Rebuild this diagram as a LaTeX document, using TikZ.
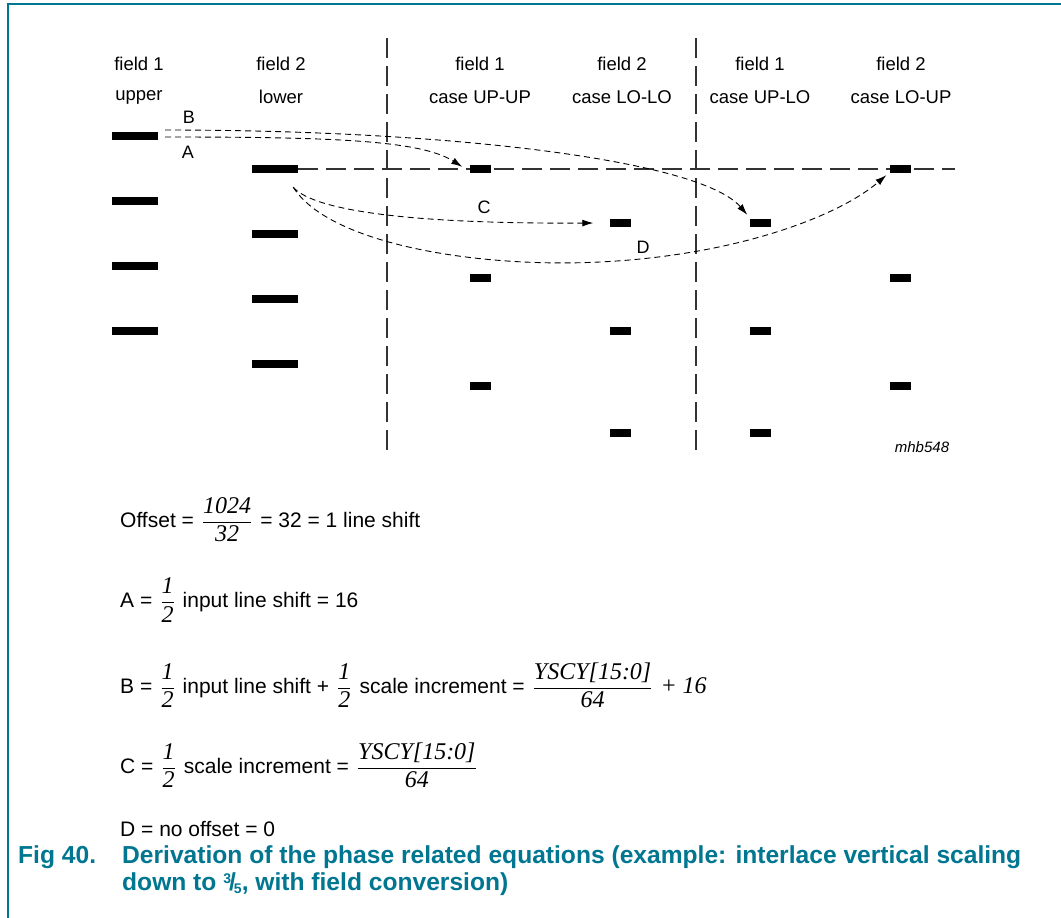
\documentclass[tikz,border=0pt]{standalone}
\usepackage{fontspec}
\setmainfont{Liberation Sans}
\newfontfamily\eqserif{Liberation Serif}
\usetikzlibrary{arrows.meta}
\definecolor{figteal}{RGB}{0,118,145}

\newcommand{\itnum}[1]{\hbox{\fontsize{24}{24}\eqserif\itshape #1}}
\newcommand{\eqfrac}[2]{\hspace{8pt}$\displaystyle\frac{\itnum{#1}}{\itnum{#2}}$\hspace{8pt}}

\tikzset{
  bigbar/.style={fill=black,inner sep=0pt,minimum width=46pt,minimum height=8pt},
  smallbar/.style={fill=black,inner sep=0pt,minimum width=21pt,minimum height=8pt},
  hdr/.style={font=\fontsize{18.5}{20}\selectfont,inner sep=0pt},
  lbl/.style={font=\fontsize{18}{20}\selectfont,inner sep=0pt},
  eqn/.style={font=\fontsize{21}{24}\selectfont,inner sep=0pt,anchor=west},
  capline/.style={font=\fontsize{24.6}{27}\selectfont\bfseries,text=figteal,anchor=north west,inner sep=0pt},
  sep/.style={line width=1.6pt,black!80,dash pattern=on 20pt off 8pt},
  move/.style={line width=0.9pt,dash pattern=on 6pt off 4pt,-{Latex[length=11pt,width=7pt]}},
}

\begin{document}
\begin{tikzpicture}[x=1pt,y=-1pt]
\useasboundingbox (0,0) rectangle (1061,918);
% frame
\draw[figteal,line width=1.4pt] (8,918) -- (8,4) -- (1061,4);

% column headers
\node[hdr] (h1a) at (139,64) {field 1};
\node[hdr] (h1b) at (139,97) {upper};
\node[hdr] (h2a) at (281,64) {field 2};
\node[hdr] (h2b) at (281,97) {lower};
\node[hdr] (h3a) at (480,64) {field 1};
\node[hdr] (h3b) at (480,97) {case UP-UP};
\node[hdr] (h4a) at (622,64) {field 2};
\node[hdr] (h4b) at (622,97) {case LO-LO};
\node[hdr] (h5a) at (760,64) {field 1};
\node[hdr] (h5b) at (760,97) {case UP-LO};
\node[hdr] (h6a) at (901,64) {field 2};
\node[hdr] (h6b) at (901,97) {case LO-UP};

% separators
\draw[sep] (387,38) -- (387,452);
\draw[sep] (696,38) -- (696,452);

% input lines
\foreach \y [count=\i] in {136,201,266,331}
  \node[bigbar] (u\i) at (135,\y) {};
\foreach \y [count=\i] in {169,234,299,364}
  \node[bigbar] (l\i) at (275,\y) {};

% output lines
\coordinate (hend) at (955,169);
\draw[sep] (l1.east) -- (hend);
\foreach \y [count=\i] in {169,278,386}
  \node[smallbar] (uu\i) at (480,\y) {};
\foreach \y [count=\i] in {223,331,433}
  \node[smallbar] (ll\i) at (620,\y) {};
\foreach \y [count=\i] in {223,331,433}
  \node[smallbar] (ul\i) at (760,\y) {};
\foreach \y [count=\i] in {169,278,386}
  \node[smallbar] (lu\i) at (900,\y) {};

% phase shifts
\draw[move] ([xshift=7pt,yshift=-1pt]u1.east) .. controls (330,137) and (420,140) .. ([xshift=-7pt,yshift=-2pt]uu1.north west);
\draw[move] ([xshift=7pt,yshift=6pt]u1.east) .. controls (450,130) and (700,160) .. ([xshift=-2pt,yshift=4pt]ul1.north west);
\draw[move] ([xshift=-5pt,yshift=-14pt]l1.south east) .. controls (315,212) and (420,224) .. ([xshift=-16pt]ll1.west);
\draw[move] ([xshift=-5pt,yshift=-14pt]l1.south east) .. controls (330,245) and (480,268) .. (600,262)
  .. controls (740,255) and (840,215) .. ([xshift=-3pt,yshift=-2pt]lu1.south west);

\node[lbl] (lblB) at (189,117) {B};
\node[lbl] (lblA) at (188,152) {A};
\node[lbl] (lblC) at (484,207) {C};
\node[lbl] (lblD) at (643,247) {D};

\node[font=\fontsize{15}{16}\selectfont\itshape,inner sep=0pt] (code) at (922,447) {mhb548};

% equations
\node[eqn] (eqO) at (120,520) {Offset =\eqfrac{1024}{32}= 32 = 1 line shift};
\node[eqn] (eqA) at (120,600) {A =\eqfrac{1}{2}input line shift = 16};
\node[eqn] (eqB) at (120,685) {B =\eqfrac{1}{2}input line shift +\eqfrac{1}{2}scale increment =\eqfrac{YSCY[15:0]}{64}\itnum{+ 16}};
\node[eqn] (eqC) at (120,765) {C =\eqfrac{1}{2}scale increment =\eqfrac{YSCY[15:0]}{64}};
\node[eqn] (eqD) at (120,829) {D = no offset = 0};

% caption
\node[capline] (fignum) at (18,845) {Fig 40.};
\node[capline,align=left] (figtxt) at (122,845)
  {Derivation of the phase related equations (example: interlace vertical scaling\\
   down to \raisebox{.5ex}{\fontsize{14}{14}\selectfont 3}\kern-.08em/\kern-.08em\raisebox{-.25ex}{\fontsize{14}{14}\selectfont 5}, with field conversion)};
\end{tikzpicture}
\end{document}
